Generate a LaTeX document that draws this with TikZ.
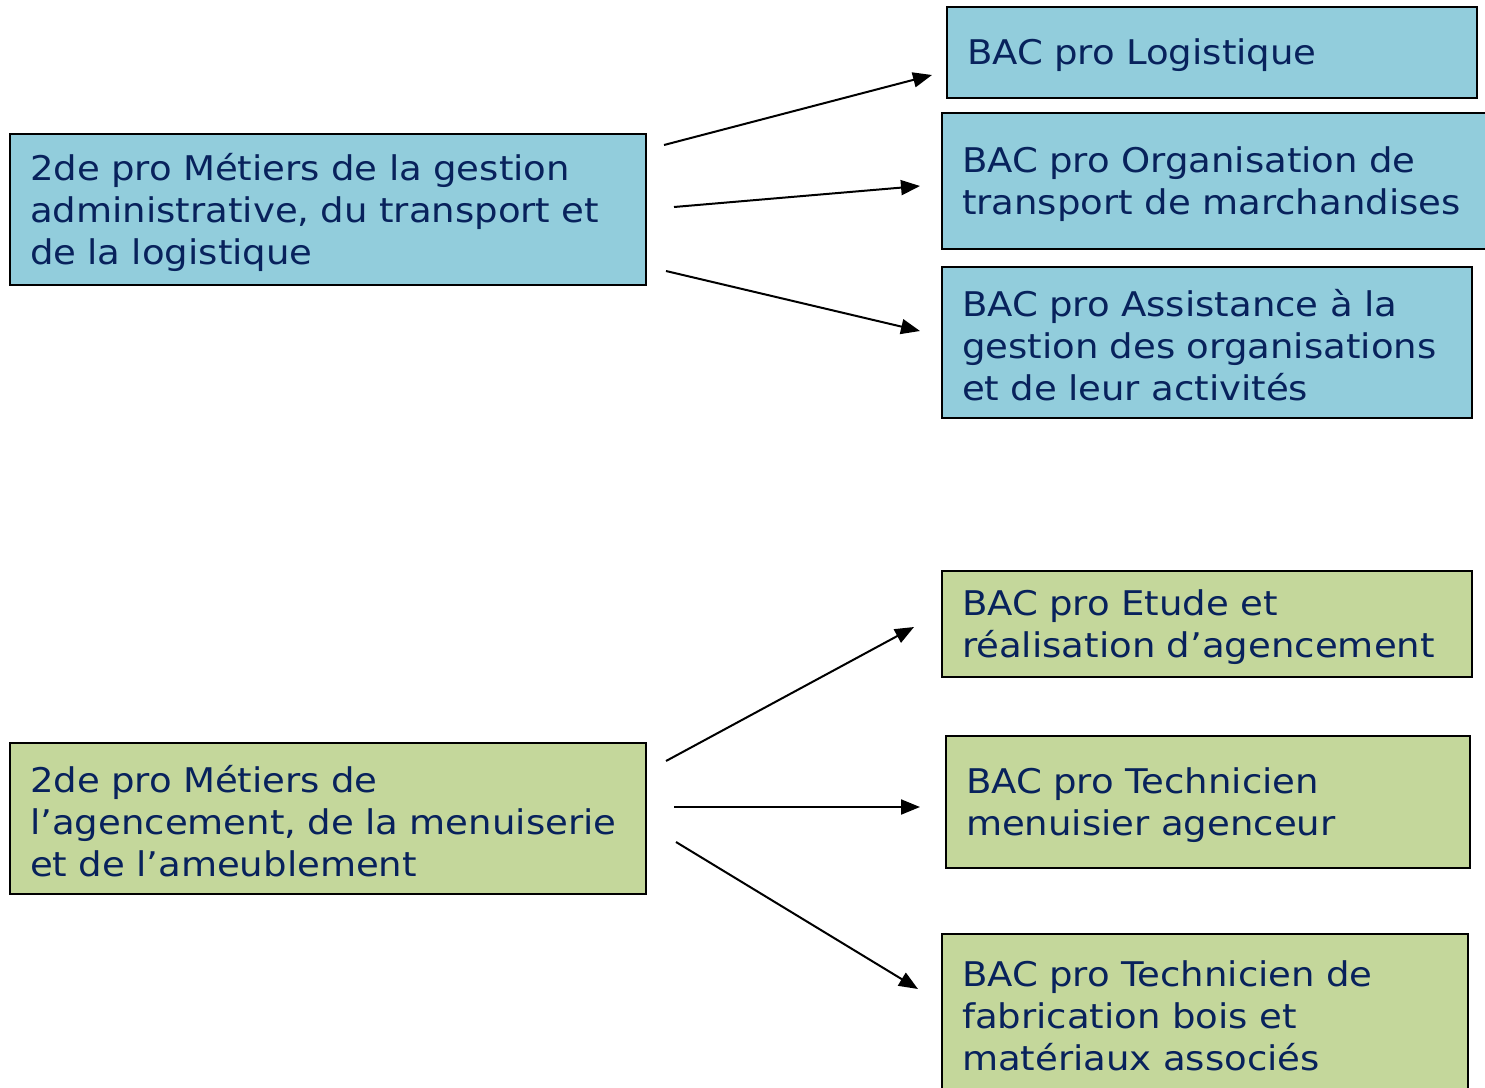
\documentclass[tikz,border=0pt]{standalone}
\usepackage{fontspec}
\setmainfont[FakeStretch=1.09]{DejaVu Sans}
\usetikzlibrary{arrows.meta}
\definecolor{boxblue}{RGB}{146,205,220}
\definecolor{boxgreen}{RGB}{196,215,155}
\definecolor{navy}{RGB}{8,34,92}
\tikzset{
  bx/.style={draw=black, line width=1.5pt, rectangle, inner sep=0pt, anchor=center},
  bluebox/.style={bx, fill=boxblue},
  greenbox/.style={bx, fill=boxgreen},
  txt/.style={inner sep=0pt, align=left, text=navy, font=\fontsize{34}{42}\selectfont, anchor=center},
  arr/.style={line width=2pt, -{Triangle[length=19pt,width=15pt]}}
}
\begin{document}
\begin{tikzpicture}[x=1pt,y=-1pt]
\useasboundingbox (0,0) rectangle (1485,1087);
% left boxes
\node[bluebox, minimum width=636, minimum height=151] (L1) at (328,209.5) {};
\node[txt, text width=596] (L1t) at ([yshift=-3pt]L1.center)
  {2de pro Métiers de la gestion\\administrative, du transport et\\de la logistique};
\node[greenbox, minimum width=636, minimum height=151] (L2) at (328,818.5) {};
\node[txt, text width=596] (L2t) at ([yshift=-3pt]L2.center)
  {2de pro Métiers de\\l’agencement, de la menuiserie\\et de l’ameublement};
% right blue boxes
\node[bluebox, minimum width=530, minimum height=91] (R1) at (1212,52.5) {};
\node[txt, text width=490] (R1t) at ([yshift=-3pt]R1.center)
  {BAC pro Logistique};
\node[bluebox, minimum width=546, minimum height=136] (R2) at (1215,181) {};
\node[txt, text width=506] (R2t) at ([yshift=-3pt]R2.center)
  {BAC pro Organisation de\\transport de marchandises};
\node[bluebox, minimum width=530, minimum height=151] (R3) at (1207,342.5) {};
\node[txt, text width=490] (R3t) at ([yshift=-3pt]R3.center)
  {BAC pro Assistance à la\\gestion des organisations\\et de leur activités};
% right green boxes
\node[greenbox, minimum width=530, minimum height=106] (R4) at (1207,624) {};
\node[txt, text width=490] (R4t) at ([yshift=-3pt]R4.center)
  {BAC pro Etude et\\réalisation d’agencement};
\node[greenbox, minimum width=524, minimum height=132] (R5) at (1208,802) {};
\node[txt, text width=484] (R5t) at ([yshift=-3pt]R5.center)
  {BAC pro Technicien\\menuisier agenceur};
\node[greenbox, minimum width=526, minimum height=158] (R6) at (1205,1013) {};
\node[txt, text width=486] (R6t) at ([yshift=-3pt]R6.center)
  {BAC pro Technicien de\\fabrication bois et\\matériaux associés};
% arrow endpoints
\coordinate (a1s) at (664,145); \coordinate (a1e) at (932,75);
\coordinate (a2s) at (674,207); \coordinate (a2e) at (920,186);
\coordinate (a3s) at (666,271); \coordinate (a3e) at (920,331);
\coordinate (b1s) at (666,761); \coordinate (b1e) at (914,627);
\coordinate (b2s) at (674,807); \coordinate (b2e) at (920,807);
\coordinate (b3s) at (676,842); \coordinate (b3e) at (918,989);
\draw[arr] (a1s) -- (a1e);
\draw[arr] (a2s) -- (a2e);
\draw[arr] (a3s) -- (a3e);
\draw[arr] (b1s) -- (b1e);
\draw[arr] (b2s) -- (b2e);
\draw[arr] (b3s) -- (b3e);
\end{tikzpicture}
\end{document}
